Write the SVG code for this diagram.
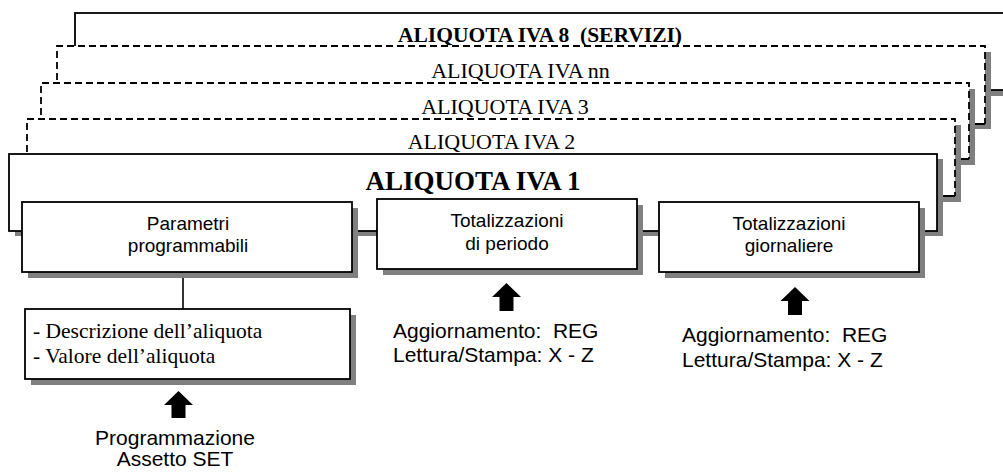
<svg xmlns="http://www.w3.org/2000/svg" width="1003" height="472" viewBox="0 0 1003 472">
  <style>
    text { white-space: pre; }
    .shadow { fill: #808080; }
    .fill { fill: #ffffff; }
    .solid { fill: none; stroke: #000; stroke-width: 1.8; }
    .dash { fill: none; stroke: #000; stroke-width: 1.8; stroke-dasharray: 7 4; }
    .box { fill: #ffffff; stroke: #000; stroke-width: 1.8; }
    .ser { font-family: "Liberation Serif", "Times New Roman", serif; fill: #000; }
    .ser-b { font-family: "Liberation Serif", "Times New Roman", serif; font-weight: bold; fill: #000; }
    .sans { font-family: "Liberation Sans", Arial, sans-serif; fill: #000; }
    .arrow { fill: #000; }
    .link { stroke: #000; stroke-width: 1.6; fill: none; }
  </style>

  <!-- Back layer: ALIQUOTA IVA 8 (SERVIZI) -->
  <g id="aliquota-iva-8">
    <rect class="shadow" x="81" y="19" width="930" height="77"/>
    <rect class="fill" x="75" y="13" width="930" height="77"/>
    <rect class="solid" x="75" y="13" width="930" height="77"/>
    <text class="ser-b" x="540" y="42" font-size="21.5" text-anchor="middle" xml:space="preserve">ALIQUOTA IVA 8  (SERVIZI)</text>
  </g>

  <!-- ALIQUOTA IVA nn -->
  <g id="aliquota-iva-nn">
    <rect class="shadow" x="63" y="52" width="928" height="77"/>
    <rect class="fill" x="57" y="46" width="928" height="78"/>
    <path class="dash" d="M57,124 V46 H985 V124"/>
    <path class="solid" d="M57,124 H985"/>
    <text class="ser" x="520.5" y="78" font-size="22" text-anchor="middle">ALIQUOTA IVA nn</text>
  </g>

  <!-- ALIQUOTA IVA 3 -->
  <g id="aliquota-iva-3">
    <rect class="shadow" x="47" y="89" width="928" height="76"/>
    <rect class="fill" x="41" y="83" width="928" height="76"/>
    <path class="dash" d="M41,159 V83 H969 V159"/>
    <path class="solid" d="M41,159 H969"/>
    <text class="ser" x="505" y="114" font-size="22" text-anchor="middle">ALIQUOTA IVA 3</text>
  </g>

  <!-- ALIQUOTA IVA 2 -->
  <g id="aliquota-iva-2">
    <rect class="shadow" x="33" y="125" width="928" height="77"/>
    <rect class="fill" x="27" y="119" width="928" height="77"/>
    <path class="dash" d="M27,196 V119 H955 V196"/>
    <path class="solid" d="M27,196 H955"/>
    <text class="ser" x="491.5" y="149" font-size="22" text-anchor="middle">ALIQUOTA IVA 2</text>
  </g>

  <!-- Front: ALIQUOTA IVA 1 -->
  <g id="aliquota-iva-1">
    <rect class="shadow" x="15" y="159" width="928" height="77"/>
    <rect class="box" x="9" y="154" width="928" height="77"/>
    <text class="ser-b" x="473" y="190" font-size="27" text-anchor="middle">ALIQUOTA IVA 1</text>
  </g>

  <!-- Connectors -->
  <g id="connectors">
    <line class="link" x1="183" y1="272" x2="183" y2="309"/>
    <polygon id="arrow-set" class="arrow" points="178.5,391 193,405 185.5,405 185.5,418 171.5,418 171.5,405 164,405"/>
    <polygon id="arrow-periodo" class="arrow" points="506.5,283 521,297 513.5,297 513.5,311 499.5,311 499.5,297 492,297"/>
    <polygon id="arrow-giornaliere" class="arrow" points="795,287 809.5,301 802,301 802,315 788,315 788,301 780.5,301"/>
  </g>

  <!-- Parametri programmabili -->
  <g id="parametri">
    <rect class="shadow" x="28" y="208" width="330" height="70"/>
    <rect class="box" x="22" y="202" width="330" height="70"/>
    <text class="sans" x="188" y="230" font-size="19" text-anchor="middle">Parametri</text>
    <text class="sans" x="188" y="252" font-size="19" text-anchor="middle">programmabili</text>
  </g>

  <!-- Totalizzazioni di periodo -->
  <g id="tot-periodo">
    <rect class="shadow" x="383" y="205" width="260" height="70"/>
    <rect class="box" x="377" y="199" width="260" height="70"/>
    <text class="sans" x="507" y="227" font-size="19" text-anchor="middle">Totalizzazioni</text>
    <text class="sans" x="507" y="250" font-size="19" text-anchor="middle">di periodo</text>
  </g>

  <!-- Totalizzazioni giornaliere -->
  <g id="tot-giornaliere">
    <rect class="shadow" x="665" y="208" width="260" height="70"/>
    <rect class="box" x="659" y="202" width="260" height="70"/>
    <text class="sans" x="789" y="230" font-size="19" text-anchor="middle">Totalizzazioni</text>
    <text class="sans" x="789" y="252" font-size="19" text-anchor="middle">giornaliere</text>
  </g>

  <!-- Descrizione / Valore -->
  <g id="descrizione">
    <rect class="shadow" x="31" y="315" width="325" height="70"/>
    <rect class="box" x="25" y="309" width="325" height="70"/>
    <text class="ser" x="33" y="338" font-size="21.5">- Descrizione dell’aliquota</text>
    <text class="ser" x="33" y="363" font-size="21.5">- Valore dell’aliquota</text>
  </g>

  <!-- Labels under arrows -->
  <g id="label-set">
    <text class="sans" x="175" y="445" font-size="21" text-anchor="middle">Programmazione</text>
    <text class="sans" x="175" y="466" font-size="21" text-anchor="middle">Assetto SET</text>
  </g>
  <g id="label-periodo">
    <text class="sans" x="393" y="338" font-size="21" xml:space="preserve">Aggiornamento:  REG</text>
    <text class="sans" x="393" y="362" font-size="21">Lettura/Stampa: X - Z</text>
  </g>
  <g id="label-giornaliere">
    <text class="sans" x="682" y="342" font-size="21" xml:space="preserve">Aggiornamento:  REG</text>
    <text class="sans" x="682" y="367" font-size="21">Lettura/Stampa: X - Z</text>
  </g>
</svg>
